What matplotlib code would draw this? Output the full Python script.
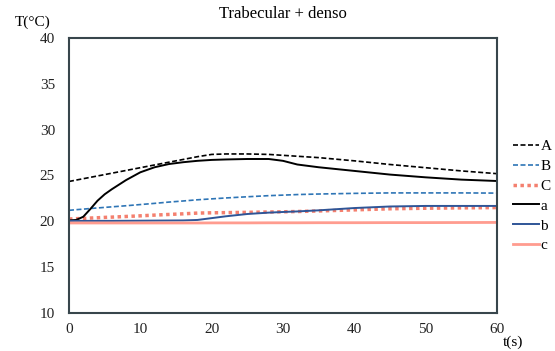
import matplotlib.pyplot as plt

plt.rcParams['font.family'] = ['Liberation Serif', 'DejaVu Serif']

t = [0, 1, 2, 3, 4, 5, 6, 8, 10, 12, 14, 16, 18, 20, 22, 25, 28, 30, 32, 35, 40, 45, 50, 55, 60]

A = [24.35, 24.5, 24.65, 24.8, 24.95, 25.1, 25.25, 25.55, 25.85, 26.15, 26.45, 26.75, 27.05,
     27.3, 27.35, 27.35, 27.3, 27.2, 27.1, 26.95, 26.6, 26.2, 25.85, 25.5, 25.2]
B = [21.2, 21.27, 21.33, 21.4, 21.46, 21.52, 21.58, 21.7, 21.83, 21.96, 22.1, 22.22, 22.35,
     22.45, 22.55, 22.68, 22.8, 22.86, 22.92, 22.98, 23.05, 23.1, 23.1, 23.1, 23.08]
C = [20.25, 20.29, 20.32, 20.36, 20.39, 20.43, 20.46, 20.53, 20.6, 20.68, 20.75, 20.82, 20.9,
     20.93, 20.95, 20.98, 21.02, 21.04, 21.07, 21.13, 21.25, 21.37, 21.43, 21.47, 21.5]
a = [20.1, 20.15, 20.5, 21.35, 22.25, 22.95, 23.5, 24.5, 25.35, 25.9, 26.25, 26.45, 26.6,
     26.7, 26.75, 26.8, 26.8, 26.6, 26.2, 25.9, 25.5, 25.1, 24.8, 24.55, 24.4]
b = [20.05, 20.05, 20.05, 20.05, 20.05, 20.05, 20.05, 20.06, 20.07, 20.08, 20.09, 20.1, 20.15,
     20.35, 20.55, 20.8, 20.95, 21.02, 21.08, 21.2, 21.45, 21.62, 21.68, 21.68, 21.68]
c = [19.82, 19.82, 19.82, 19.82, 19.82, 19.82, 19.82, 19.82, 19.82, 19.82, 19.82, 19.82, 19.82,
     19.83, 19.83, 19.83, 19.84, 19.84, 19.84, 19.85, 19.85, 19.86, 19.86, 19.87, 19.88]

fig = plt.figure(figsize=(5.55, 3.51), dpi=100)
ax = fig.add_axes([69/555, 1-313/351, (497-69)/555, (313-38)/351])

ax.plot(t, A, color='black', ls=(0, (3, 1.5)), lw=1.2, label='A')
ax.plot(t, B, color='#2E75B6', ls=(0, (3, 1.5)), lw=1.2, label='B')
ax.plot(t, C, color='#F4806F', ls=(0, (1, 1)), lw=2.5, label='C')
ax.plot(t, a, color='black', lw=1.4, label='a')
ax.plot(t, b, color='#2F5597', lw=1.4, label='b')
ax.plot(t, c, color='#FF9C8F', lw=2.0, label='c')

ax.set_xlim(0, 60)
ax.set_ylim(10, 40)
ax.set_xticks(range(0, 61, 10))
ax.set_yticks(range(10, 41, 5))
ax.tick_params(length=0, labelsize=11, colors='#222222')
ax.tick_params(axis='y', pad=10)
ax.tick_params(axis='x', pad=7)
for s in ax.spines.values():
    s.set_color('#38464c')
    s.set_linewidth(1.5)

fig.text(283/555, 1-14/351, 'Trabecular + denso', ha='center', va='center', fontsize=12)
fig.text(15/555, 1-22/351, 'T(°C)', ha='left', va='center', fontsize=11)
fig.text(503/555, 1-342/351, 't(s)', ha='left', va='center', fontsize=11)

ax.legend(loc='center left', bbox_to_anchor=(513/555, 1-196/351), bbox_transform=fig.transFigure,
          frameon=False, fontsize=11, handlelength=1.7, handletextpad=0.1,
          labelspacing=0.4, borderpad=0, borderaxespad=0)

fig.savefig('out.png', dpi=100)
